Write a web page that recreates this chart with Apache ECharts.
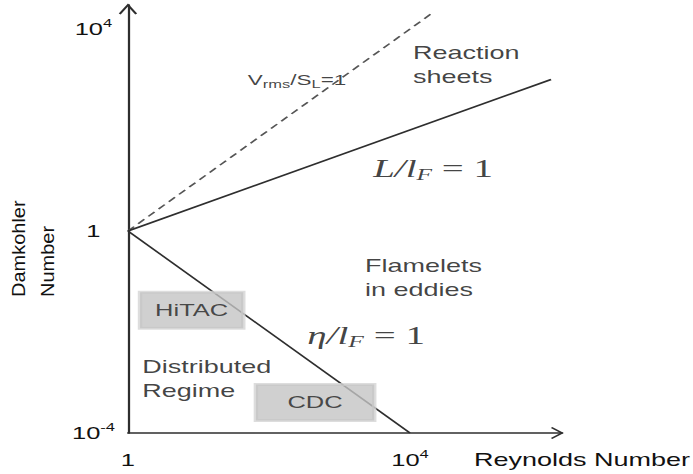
<!DOCTYPE html>
<html>
<head>
<meta charset="utf-8">
<script src="https://cdn.jsdelivr.net/npm/echarts@6/dist/echarts.min.js"></script>
<style>
html, body { margin: 0; padding: 0; background: #fff; overflow: hidden; }
/* the source figure is stretched sideways, so draw narrow and widen it */
#chart { width: 462px; height: 474px; transform: scaleX(1.5); transform-origin: 0 0; }
</style>
</head>
<body>
<div id="chart"></div>
<script>
const ink = '#111111'
const lineInk = '#2e2e2e'
const sans = 'Liberation Sans'
const serif = 'Liberation Serif'

// regime boundaries, [Reynolds, Damkohler]
const vrmsRe = [1, 20000]      // Vrms/SL = 1 (dashed)
const vrmsDa = [1, 20000]
const thickRe = [1, 1e6]       // L/lF = 1
const thickDa = [1, 1e3]
const kolmRe = [1, 1e4]        // eta/lF = 1
const kolmDa = [1, 1e-4]

// axis extents and the powers of ten that carry a tick label
const reMax = Math.pow(10, 6.156)
const daMin = 1e-4
const daMax = Math.pow(10, 4.475)
const xTickExp = [0, 4]
const yTickExp = [-4, 0, 4]

// annotation anchors in data units
const noteNames = ['vrms', 'reaction', 'thick', 'flamelets', 'kolm', 'hitac', 'distributed', 'cdc']
const noteRe = [250, 11000, 3000, 2300, 350, 8, 1.6, 450]
const noteDa = [1000, 2000, 18, 0.12, 0.0087, 0.027, 0.0012, 0.0004]

const powerLabel = exps => v => {
  const e = Math.log10(v)
  const r = Math.round(e)
  if (Math.abs(e - r) > 1e-6 || !exps.includes(r)) return ''
  return r === 0 ? '{b|1}' : '{b|10}{s|' + r + '}'
}
const tickRich = {
  b: { fontFamily: sans, fontSize: 17, lineHeight: 22, color: ink },
  s: { fontFamily: sans, fontSize: 11, lineHeight: 14, verticalAlign: 'top', color: ink }
}

const mathRich = {
  m: { fontFamily: serif, fontStyle: 'italic', fontSize: 26, lineHeight: 30, color: ink },
  sub: { fontFamily: serif, fontStyle: 'italic', fontSize: 17, lineHeight: 12, verticalAlign: 'bottom', color: ink },
  r: { fontFamily: serif, fontSize: 26, lineHeight: 30, color: ink }
}
const boxStyle = {
  fontFamily: sans, fontSize: 17, lineHeight: 20, color: '#222',
  backgroundColor: '#c4c4c4', borderColor: '#d4d4d4', borderWidth: 1.5
}

const noteLabels = {
  vrms: {
    formatter: '{v|V}{s|rms}{v|/S}{s|L}{v|=1}', align: 'center',
    rich: {
      v: { fontFamily: sans, fontSize: 15, lineHeight: 20, color: ink },
      s: { fontFamily: sans, fontSize: 11, lineHeight: 11, verticalAlign: 'bottom', color: ink }
    }
  },
  reaction: { formatter: 'Reaction\nsheets', align: 'left', fontSize: 18, lineHeight: 24 },
  thick: { formatter: '{m|L/l}{sub|F}{r| = 1}', align: 'left', rich: mathRich },
  flamelets: { formatter: 'Flamelets\nin eddies', align: 'left', fontSize: 18, lineHeight: 24 },
  kolm: { formatter: '{m|η/l}{sub|F}{r| = 1}', align: 'left', rich: mathRich },
  hitac: Object.assign({ formatter: 'HiTAC', align: 'center', padding: [8, 10, 8, 10] }, boxStyle),
  distributed: { formatter: 'Distributed\nRegime', align: 'left', fontSize: 18, lineHeight: 24 },
  cdc: Object.assign({ formatter: 'CDC', align: 'center', padding: [8, 21, 8, 21] }, boxStyle)
}

const zip = (a, b) => a.map((v, i) => [v, b[i]])

const chart = echarts.init(document.getElementById('chart'), null, { renderer: 'svg' })

const option = {
  animation: false,
  backgroundColor: '#fff',
  grid: { left: 85.3, right: 87.3, top: 5, bottom: 41, outerBoundsMode: 'none' },
  xAxis: {
    type: 'log',
    logBase: 10,
    min: 1,
    max: reMax,
    name: 'Reynolds Number',
    nameLocation: 'end',
    nameGap: 85.3,
    nameMoveOverlap: false,
    nameTextStyle: {
      fontFamily: sans, fontSize: 18, color: ink,
      align: 'right', verticalAlign: 'top', lineHeight: 54
    },
    axisLine: { onZero: false, lineStyle: { color: lineInk, width: 1.5 } },
    axisTick: { show: false },
    splitLine: { show: false },
    axisLabel: { margin: 16, formatter: powerLabel(xTickExp), rich: tickRich }
  },
  yAxis: {
    type: 'log',
    logBase: 10,
    min: daMin,
    max: daMax,
    axisLine: { show: true, onZero: false, lineStyle: { color: lineInk, width: 1.5 } },
    axisTick: { show: false },
    splitLine: { show: false },
    axisLabel: { margin: 23, align: 'center', formatter: powerLabel(yTickExp), rich: tickRich }
  },
  series: [
    {
      type: 'line',
      data: zip(vrmsRe, vrmsDa),
      showSymbol: false,
      silent: true,
      lineStyle: { color: '#555', width: 1.4, type: [6, 4] }
    },
    {
      type: 'line',
      data: zip(thickRe, thickDa),
      showSymbol: false,
      silent: true,
      lineStyle: { color: lineInk, width: 1.5 }
    },
    {
      type: 'line',
      data: zip(kolmRe, kolmDa),
      showSymbol: false,
      silent: true,
      lineStyle: { color: lineInk, width: 1.4 }
    },
    {
      type: 'scatter',
      z: 5,
      silent: true,
      symbolSize: 1,
      itemStyle: { color: 'rgba(0,0,0,0)' },
      label: {
        show: true,
        position: 'inside',
        verticalAlign: 'middle',
        fontFamily: sans,
        color: ink,
        textBorderWidth: 0
      },
      data: noteRe.map((re, i) => ({
        value: [re, noteDa[i]],
        label: noteLabels[noteNames[i]]
      }))
    }
  ]
}

chart.setOption(option)

// open arrow heads at the axis ends, plus the y title
const yTip = chart.convertToPixel({ xAxisIndex: 0, yAxisIndex: 0 }, [1, daMax])
const xTip = chart.convertToPixel({ xAxisIndex: 0, yAxisIndex: 0 }, [reMax, daMin])
chart.setOption({
  graphic: [
    {
      type: 'polyline', x: yTip[0], y: yTip[1], silent: true,
      shape: { points: [[-5.5, 9], [0, 0], [5.5, 9]] },
      style: { stroke: lineInk, lineWidth: 1.5, fill: null }
    },
    {
      type: 'polyline', x: xTip[0], y: xTip[1], silent: true,
      shape: { points: [[-7, -5.5], [0, 0], [-7, 5.5]] },
      style: { stroke: lineInk, lineWidth: 1.5, fill: null }
    },
    {
      // y title, squeezed across so the stretch leaves it slim like the source
      type: 'text', x: 22.4, y: 297, rotation: Math.PI / 2, scaleY: 0.62, silent: true,
      style: {
        text: 'Damkohler\nNumber',
        font: '20px "Liberation Sans"',
        fill: ink,
        align: 'left',
        verticalAlign: 'middle',
        lineHeight: 31
      }
    }
  ]
})
</script>
</body>
</html>
